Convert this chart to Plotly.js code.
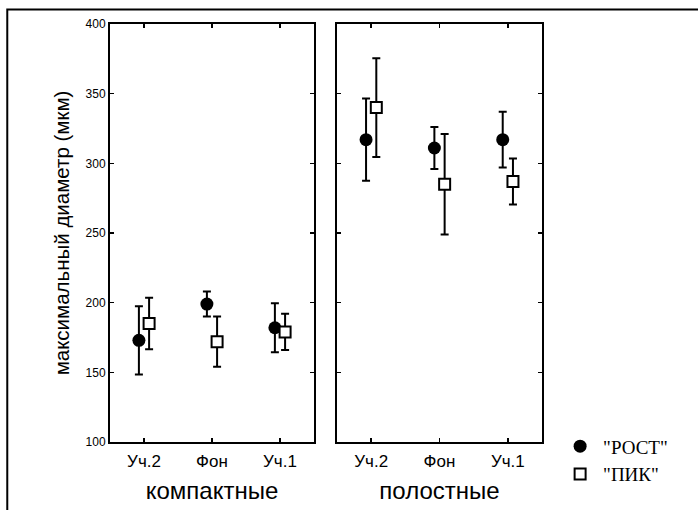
<!DOCTYPE html>
<html>
<head>
<meta charset="utf-8">
<script src="https://cdn.plot.ly/plotly-3.0.1.min.js"></script>
<style>html,body{margin:0;padding:0;background:#fff;}#chart{width:698px;height:510px;}</style>
</head>
<body>
<div id="chart"></div>
<script>
// ---- data ----
var categories = ['Уч.2', 'Фон', 'Уч.1'];
var groups = ['компактные', 'полостные'];
var seriesNames = ['"РОСТ"', '"ПИК"'];
var compactRost = [173, 199, 182];
var compactRostErr = [24.5, 9, 17.5];
var compactPik = [185, 172, 179];
var compactPikErr = [18.5, 18, 13];
var cavityRost = [317, 311, 317];
var cavityRostErr = [29.5, 15, 20];
var cavityPik = [340, 285, 287];
var cavityPikErr = [35.5, 36, 16.5];
var yTicks = [100, 150, 200, 250, 300, 350, 400];
var yTitle = 'максимальный диаметр (мкм)';

var idx = categories.map(function (c, i) { return i; });
var off = 0.075;
function shift(d) { return idx.map(function (i) { return i + d; }); }

var errStyle = {type: 'data', visible: true, thickness: 2, width: 4, color: '#000'};
function err(arr) { return Object.assign({array: arr}, errStyle); }

var circle = {symbol: 'circle', size: 13, color: '#000', line: {width: 0}};
var square = {symbol: 'square', size: 11, color: '#fff', line: {width: 2, color: '#000'}};

var traces = [
  {x: shift(-off), y: compactRost, error_y: err(compactRostErr), mode: 'markers', marker: circle,
   name: seriesNames[0], xaxis: 'x', yaxis: 'y', legendgroup: 'a', showlegend: true},
  {x: shift(off), y: compactPik, error_y: err(compactPikErr), mode: 'markers', marker: square,
   name: seriesNames[1], xaxis: 'x', yaxis: 'y', legendgroup: 'b', showlegend: true},
  {x: shift(-off), y: cavityRost, error_y: err(cavityRostErr), mode: 'markers', marker: circle,
   name: seriesNames[0], xaxis: 'x2', yaxis: 'y2', legendgroup: 'a', showlegend: false},
  {x: shift(off), y: cavityPik, error_y: err(cavityPikErr), mode: 'markers', marker: square,
   name: seriesNames[1], xaxis: 'x2', yaxis: 'y2', legendgroup: 'b', showlegend: false}
];

var sans = 'Liberation Sans, Arial, sans-serif';
function xax(dom, title, anchor) {
  return {
    domain: dom, anchor: anchor, range: [-0.5, 2.5], tickvals: idx, ticktext: categories,
    ticks: 'inside', ticklen: 4, tickwidth: 1.5, tickcolor: '#000',
    showline: true, linewidth: 2, linecolor: '#000', mirror: 'allticks',
    showgrid: false, zeroline: false, fixedrange: true,
    tickfont: {family: sans, size: 17, color: '#000'},
    ticklabelstandoff: 3,
    title: {text: title, font: {family: sans, size: 24, color: '#000'}, standoff: 12}
  };
}
function yax(anchor, labels) {
  return {
    domain: [0, 1], anchor: anchor, range: [100, 400], tickvals: yTicks,
    ticks: 'inside', ticklen: 4, tickwidth: 1.5, tickcolor: '#000',
    showline: true, linewidth: 2, linecolor: '#000', mirror: 'allticks',
    showgrid: false, zeroline: false, fixedrange: true, showticklabels: labels,
    tickfont: {family: sans, size: 12, color: '#000'}
  };
}

var layout = {
  width: 698, height: 510,
  margin: {l: 110, r: 156, t: 24, b: 68},
  paper_bgcolor: '#fff', plot_bgcolor: '#fff',
  showlegend: true,
  legend: {x: 1.035, xanchor: 'left', y: 0.035, yanchor: 'top', itemwidth: 36,
           font: {family: 'Liberation Serif, Times New Roman, serif', size: 19, color: '#000'},
           bgcolor: 'rgba(0,0,0,0)', tracegroupgap: 0},
  xaxis: xax([0, 0.4722], groups[0], 'y'),
  xaxis2: xax([0.5255, 1], groups[1], 'y2'),
  yaxis: Object.assign(yax('x', true), {
    title: {text: yTitle, font: {family: sans, size: 20.5, color: '#000'}, standoff: 10}
  }),
  yaxis2: yax('x2', false),
  shapes: [{type: 'rect', xref: 'paper', yref: 'paper',
            x0: -0.2378, x1: 1.5, y0: -0.5, y1: 1.0345,
            line: {color: '#000', width: 2}, fillcolor: 'rgba(0,0,0,0)', layer: 'below'}]
};
layout.yaxis2.matches = 'y';

Plotly.newPlot('chart', traces, layout, {displayModeBar: false, staticPlot: true});
</script>
</body>
</html>
